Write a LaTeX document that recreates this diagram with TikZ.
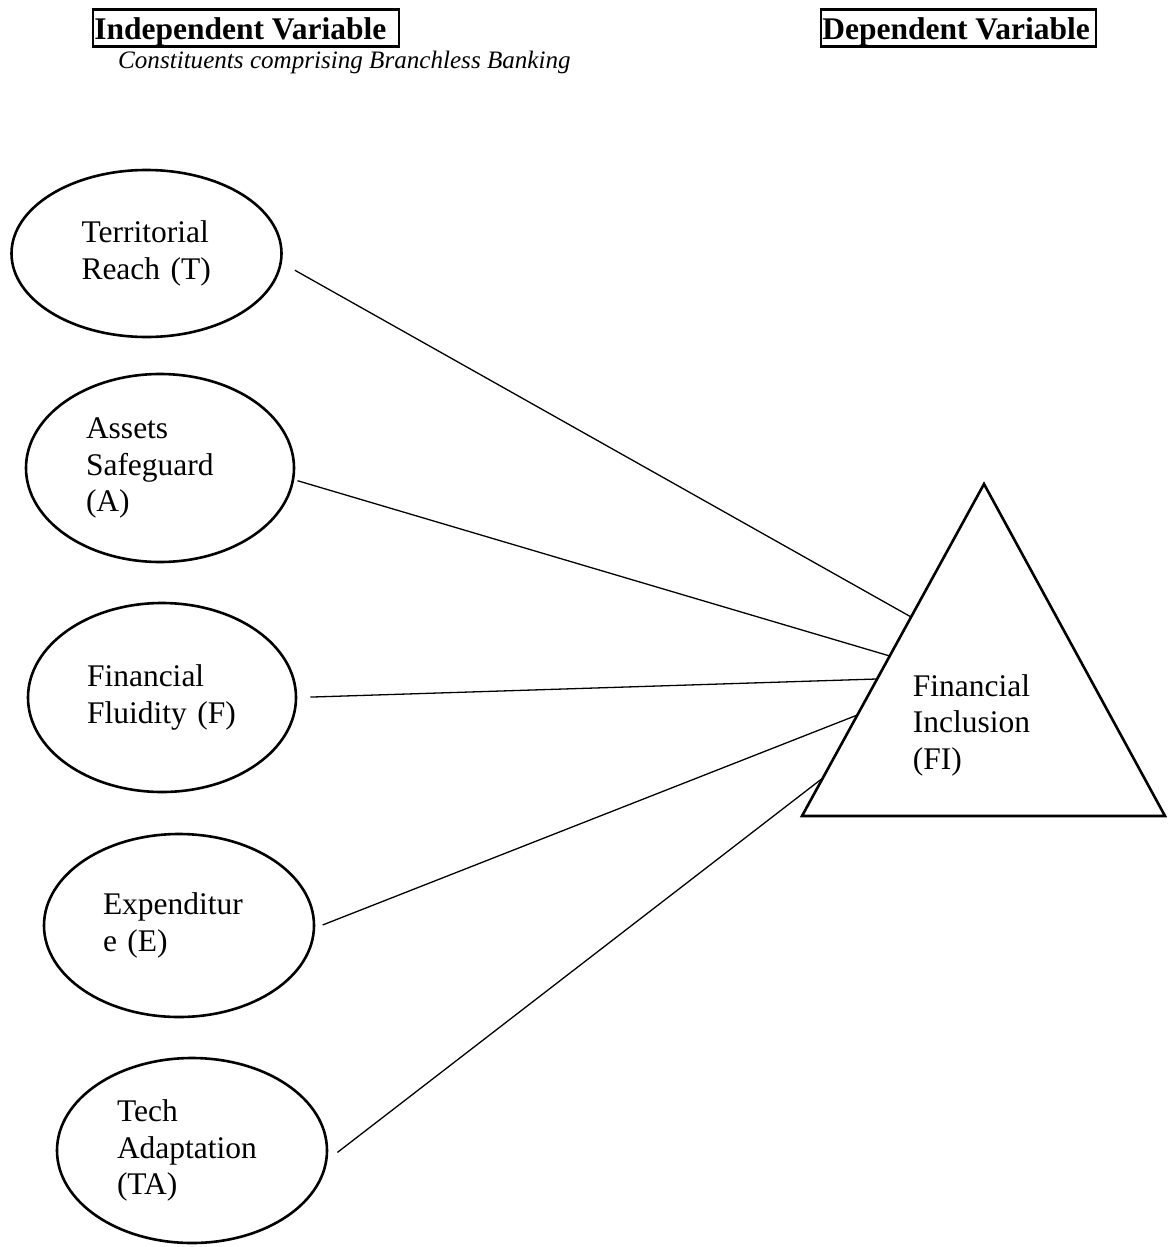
\documentclass[tikz,border=0pt]{standalone}
\usepackage{fontspec}
\setmainfont{Liberation Serif}
\usetikzlibrary{shapes.geometric, calc}

\begin{document}
\begin{tikzpicture}[x=1pt, y=-1pt,
  factor/.style={draw, ellipse, line width=2.6pt, inner sep=0pt, align=left,
    font=\fontsize{31.5}{36.5}\selectfont},
  headbox/.style={draw, line width=2.6pt, anchor=north west, inner xsep=1.5pt, inner ysep=0pt,
    text height=29.5pt, text depth=7.5pt, font=\fontsize{31.5}{36}\selectfont\bfseries},
  link/.style={line width=1.3pt}]
  \useasboundingbox (0,0) rectangle (1171,1247);
  \node[headbox] (indep) at (91.5,8.5) {\makebox[303pt][l]{Independent Variable}};
  \node[headbox] (dep) at (819.5,8.5) {\makebox[272pt][l]{Dependent Variable}};
  \node[anchor=base west, inner sep=0pt, font=\fontsize{25.1}{30}\selectfont\itshape] (sub) at (118,69) {Constituents comprising Branchless Banking};
  \node[factor, minimum width=270pt, minimum height=167pt, text width=130pt] (T) at (146.5,253.5) {Territorial\\Reach (T)};
  \node[factor, minimum width=268pt, minimum height=188pt, text width=148pt] (A) at (160,468) {Assets\\Safeguard\\(A)};
  \node[factor, minimum width=268pt, minimum height=189pt, text width=150pt] (F) at (162,697.5) {Financial\\Fluidity (F)};
  \node[factor, minimum width=270pt, minimum height=183pt, text width=152pt] (E) at (179,925.5) {Expenditur\\e (E)};
  \node[factor, minimum width=270pt, minimum height=185pt, text width=150pt] (TA) at (192,1150.5) {Tech\\Adaptation\\(TA)};
  \coordinate (apex) at (984,484);
  \coordinate (lc) at (802,816);
  \coordinate (rc) at (1165,816);
  \draw[line width=2.6pt, line join=miter] (apex) -- (lc) -- (rc) -- cycle;
  \node[inner sep=0pt, align=left, font=\fontsize{31.5}{36.5}\selectfont] (FI) at (971.5,725) {Financial\\Inclusion\\(FI)};
  \coordinate (t1) at ($(apex)!0.4006!(lc)$);
  \coordinate (a1) at ($(apex)!0.518!(lc)$);
  \coordinate (f1) at ($(apex)!0.5873!(lc)$);
  \coordinate (e1) at ($(apex)!0.6958!(lc)$);
  \coordinate (ta1) at ($(apex)!0.8855!(lc)$);
  \draw[link, shorten <=14.8pt] (T.-4.3) -- (t1);
  \draw[link, shorten <=3.4pt] (A.-5.6) -- (a1);
  \draw[link, shorten <=13pt] (F.east) -- (f1);
  \draw[link, shorten <=8pt] (E.-1) -- (e1);
  \draw[link, shorten <=12.4pt] (TA.-4.3) -- (ta1);
\end{tikzpicture}
\end{document}
